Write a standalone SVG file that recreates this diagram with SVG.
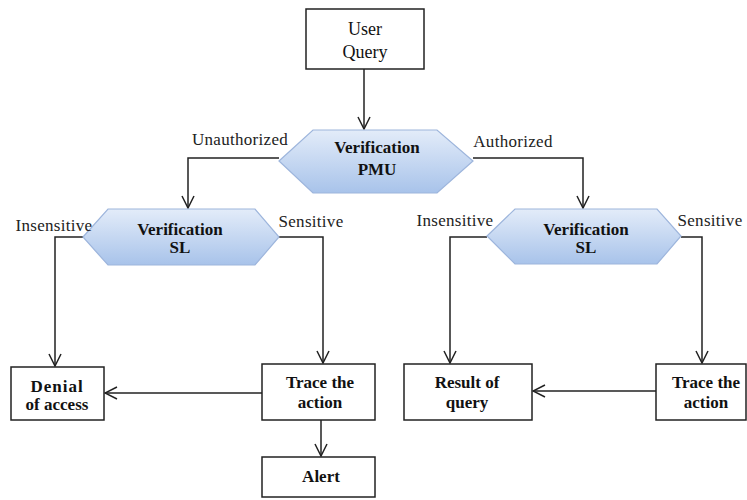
<svg xmlns="http://www.w3.org/2000/svg" width="747" height="500" viewBox="0 0 747 500" font-family="Liberation Serif">
<style>
.box{fill:#fff;stroke:#222;stroke-width:1.5}
.hex{fill:url(#hg);stroke:#9db5dc;stroke-width:1.2}
.t{font-size:17px;fill:#111;text-anchor:middle}
.b{font-weight:bold}
.lbl{font-size:17px;fill:#222;text-anchor:middle;letter-spacing:0.3px}
.c{fill:none;stroke:#222;stroke-width:1.5}
</style>
<defs>
<linearGradient id="hg" x1="0" y1="0" x2="0" y2="1">
<stop offset="0" stop-color="#e3ecf9"/>
<stop offset="1" stop-color="#a8c3ea"/>
</linearGradient>
<marker id="ar" viewBox="0 0 14 14" refX="13" refY="7" markerWidth="14" markerHeight="14" markerUnits="userSpaceOnUse" orient="auto">
<polyline points="1,1 13,7 1,13" fill="none" stroke="#222" stroke-width="1.5"/>
</marker>
</defs>
<g id="connectors">
<line class="c" x1="364" y1="69" x2="364" y2="129" marker-end="url(#ar)"/>
<polyline class="c" points="279,158 188,158 188,208" marker-end="url(#ar)"/>
<polyline class="c" points="473,158 583,158 583,208" marker-end="url(#ar)"/>
<polyline class="c" points="83,237 55,237 55,366" marker-end="url(#ar)"/>
<polyline class="c" points="279,237 323,237 323,363" marker-end="url(#ar)"/>
<polyline class="c" points="487,237 450,237 450,363" marker-end="url(#ar)"/>
<polyline class="c" points="681,237 702,237 702,363" marker-end="url(#ar)"/>
<line class="c" x1="262" y1="393" x2="105" y2="393" marker-end="url(#ar)"/>
<line class="c" x1="656" y1="391" x2="533" y2="391" marker-end="url(#ar)"/>
<line class="c" x1="321" y1="420" x2="321" y2="456" marker-end="url(#ar)"/>
</g>
<g id="user-query">
<rect class="box" x="306" y="9" width="118" height="60"/>
<text class="t" x="365" y="35" style="font-size:18px">User</text>
<text class="t" x="365" y="58" style="font-size:18px">Query</text>
</g>
<g id="verification-pmu">
<polygon class="hex" points="279,161 313,130 437,130 473,161 437,193 313,193"/>
<text class="t b" x="377" y="153">Verification</text>
<text class="t b" x="377" y="175">PMU</text>
</g>
<g id="verification-sl-left">
<polygon class="hex" points="83,237 108,209 255,209 279,237 255,265 108,265"/>
<text class="t b" x="180" y="235">Verification</text>
<text class="t b" x="180" y="253">SL</text>
</g>
<g id="verification-sl-right">
<polygon class="hex" points="487,236 515,209 657,209 681,236 657,264 515,264"/>
<text class="t b" x="586" y="235">Verification</text>
<text class="t b" x="586" y="253">SL</text>
</g>
<g id="denial-of-access">
<rect class="box" x="11" y="367" width="93" height="53"/>
<text class="t b" x="57" y="392" letter-spacing="1">Denial</text>
<text class="t b" x="57" y="410">of access</text>
</g>
<g id="trace-left">
<rect class="box" x="262" y="364" width="113" height="56"/>
<text class="t b" x="320" y="388">Trace the</text>
<text class="t b" x="320" y="408">action</text>
</g>
<g id="alert">
<rect class="box" x="262" y="457" width="113" height="40"/>
<text class="t b" x="321" y="482">Alert</text>
</g>
<g id="result-of-query">
<rect class="box" x="404" y="364" width="128" height="56"/>
<text class="t b" x="467" y="388">Result of</text>
<text class="t b" x="467" y="408">query</text>
</g>
<g id="trace-right">
<rect class="box" x="656" y="364" width="90" height="56"/>
<text class="t b" x="706" y="388">Trace the</text>
<text class="t b" x="706" y="408">action</text>
</g>
<g id="labels">
<text class="lbl" x="240" y="145">Unauthorized</text>
<text class="lbl" x="513" y="147">Authorized</text>
<text class="lbl" x="54" y="231">Insensitive</text>
<text class="lbl" x="311" y="227">Sensitive</text>
<text class="lbl" x="455" y="226">Insensitive</text>
<text class="lbl" x="710" y="226">Sensitive</text>
</g>
</svg>
